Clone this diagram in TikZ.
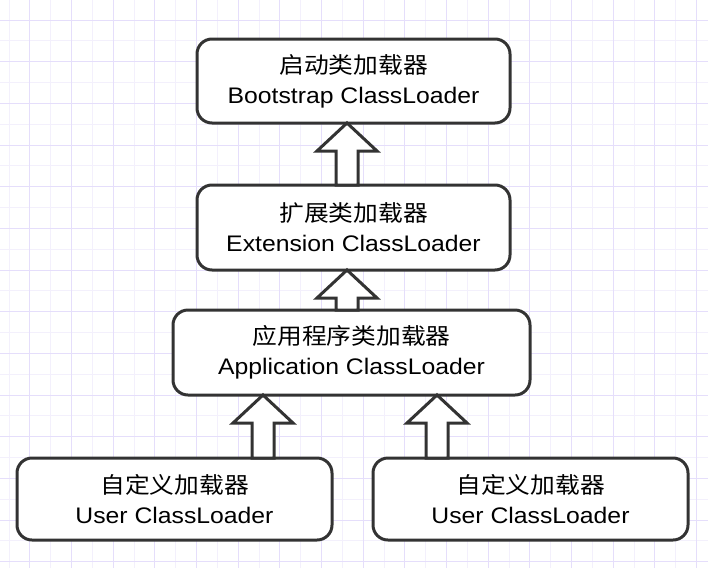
\documentclass[tikz,border=0pt]{standalone}
\usepackage{fontspec}
\setmainfont{Liberation Sans}[FakeStretch=1.1]
\newfontfamily\cjk{Noto Sans CJK SC}[FakeStretch=1.1]
\usepackage{xcolor}
\usepackage{tikz}
\usetikzlibrary{calc}
\definecolor{lineGray}{RGB}{51,51,51}
\definecolor{gridMajor}{RGB}{229,222,251}
\definecolor{gridMinor}{RGB}{243,240,252}

% hollow up-arrow: x position, lower node, upper node
\newcommand{\hollowup}[3]{%
  \draw[hollow] let \p1=(#2.north), \p2=(#3.south) in
    (#1pt-11pt,\y1) -- (#1pt-11pt,\y2-28pt) -- (#1pt-30pt,\y2-28pt)
    -- (#1pt,\y2) -- (#1pt+30pt,\y2-28pt) -- (#1pt+11pt,\y2-28pt)
    -- (#1pt+11pt,\y1) -- cycle;}

\begin{document}
\begin{tikzpicture}[x=1pt, y=-1pt,
    loader/.style={draw=lineGray, line width=3pt, fill=white, rounded corners=15pt,
      outer sep=0pt, align=center, font=\fontsize{22.5}{30}\selectfont},
    hollow/.style={draw=lineGray, line width=3pt, fill=white, line join=miter}]
  \useasboundingbox (0,0) rectangle (708,581);
  % Grid background
  \foreach \k in {0,...,33}
    \draw[gridMinor, line width=1pt] ({9+20.833*\k},0) -- ({9+20.833*\k},568);
  \foreach \k in {1,...,27}
    \draw[gridMinor, line width=1pt] (0,{-0.8+20.833*\k}) -- (708,{-0.8+20.833*\k});
  \foreach \k in {1,3,...,33}
    \draw[gridMajor, line width=1pt] ({9+20.833*\k},0) -- ({9+20.833*\k},568);
  \foreach \k in {1,3,...,27}
    \draw[gridMajor, line width=1pt] (0,{-0.8+20.833*\k}) -- (708,{-0.8+20.833*\k});

  % Loaders
  \node[loader, minimum width=313pt, minimum height=84pt] (boot) at (353.5,81)
    {{\cjk 启动类加载器}\\Bootstrap ClassLoader};
  \node[loader, minimum width=313pt, minimum height=85pt] (ext) at (353.5,227.5)
    {{\cjk 扩展类加载器}\\Extension ClassLoader};
  \node[loader, minimum width=357pt, minimum height=85pt] (app) at (351.5,352.5)
    {{\cjk 应用程序类加载器}\\Application ClassLoader};
  \node[loader, minimum width=315pt, minimum height=82pt] (userA) at (174.5,499)
    {{\cjk 自定义加载器}\\User ClassLoader};
  \node[loader, minimum width=315pt, minimum height=82pt] (userB) at (530.5,499)
    {{\cjk 自定义加载器}\\User ClassLoader};

  % Delegation arrows
  \hollowup{347}{ext}{boot}
  \hollowup{347}{app}{ext}
  \hollowup{263}{userA}{app}
  \hollowup{437}{userB}{app}
\end{tikzpicture}
\end{document}
